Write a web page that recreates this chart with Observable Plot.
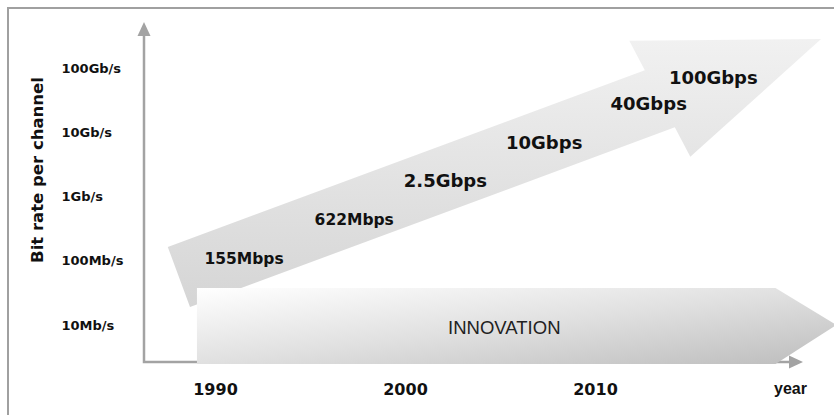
<!DOCTYPE html>
<html>
<head>
<meta charset="utf-8">
<script src="https://cdn.jsdelivr.net/npm/d3@7"></script>
<script src="https://cdn.jsdelivr.net/npm/@observablehq/plot@0.6"></script>
<style>
  html, body { margin: 0; padding: 0; background: #fff; }
  #chart svg { display: block; }
</style>
</head>
<body>
<div id="chart"></div>
<script>
// Bit-rate axis (Mb/s, log scale) and its tick labels
const rateTicks = [10, 100, 1000, 10000, 100000];
const rateTickLabels = ["10Mb/s", "100Mb/s", "1Gb/s", "10Gb/s", "100Gb/s"];
const yearTicks = [1990, 2000, 2010];

// Channel-rate milestones written along the trend arrow
const milestoneLabels = ["155Mbps", "622Mbps", "2.5Gbps", "10Gbps", "40Gbps", "100Gbps"];
const milestoneRates = [155, 622, 2500, 10000, 40000, 100000];
const milestoneYears = [1991.5, 1997.3, 2002.1, 2007.3, 2012.8, 2016.2];

// Trend arrow: tail and tip (year, Mb/s)
const trendYears = [1988.1, 2021.9];
const trendRates = [56, 282000];

// "INNOVATION" arrow: start, end of body, tip (years)
const innovationYears = [1989.05, 2019.5, 2022.7];

const milestones = milestoneLabels.map((label, i) => ({
  label, rate: milestoneRates[i], year: milestoneYears[i]
}));

const W = 834, H = 415;
const axisGray = "#a3a3a3";
const tickFont = "DejaVu Sans";

function decorations(index, scales, values, dimensions) {
  const {width, height, marginLeft, marginTop, marginRight, marginBottom} = dimensions;
  const x = scales.x, y = scales.y;
  const g = d3.create("svg:g");
  const defs = g.append("defs");

  const trendGrad = defs.append("linearGradient")
    .attr("id", "trend-fill").attr("x1", 0).attr("y1", 0).attr("x2", 0).attr("y2", 1);
  trendGrad.append("stop").attr("offset", 0).attr("stop-color", "#f1f1f1");
  trendGrad.append("stop").attr("offset", 1).attr("stop-color", "#d5d5d5");

  const innoGrad = defs.append("linearGradient")
    .attr("id", "innovation-fill").attr("x1", 0).attr("y1", 0).attr("x2", 1).attr("y2", 1);
  innoGrad.append("stop").attr("offset", 0).attr("stop-color", "#ffffff");
  innoGrad.append("stop").attr("offset", 0.5).attr("stop-color", "#e0e0e0");
  innoGrad.append("stop").attr("offset", 1).attr("stop-color", "#bdbdbd");

  // outer border (left and top)
  g.append("path")
    .attr("d", `M8,${height}V8H${width}`)
    .attr("fill", "none").attr("stroke", "#a0a0a0").attr("stroke-width", 2);

  // axes with filled arrowheads
  const ox = marginLeft, oy = height - marginBottom;
  const xTip = width - marginRight, yTip = marginTop;
  const headLen = 14, headHalf = 6.5;
  g.append("path")
    .attr("d", `M${ox},${yTip + headLen}V${oy}H${xTip - headLen}`)
    .attr("fill", "none").attr("stroke", axisGray).attr("stroke-width", 2.5);
  g.append("path")
    .attr("d", `M${ox - headHalf},${yTip + headLen}L${ox},${yTip}L${ox + headHalf},${yTip + headLen}Z`)
    .attr("fill", axisGray);
  g.append("path")
    .attr("d", `M${xTip - headLen},${oy - headHalf}L${xTip},${oy}L${xTip - headLen},${oy + headHalf}Z`)
    .attr("fill", axisGray);

  // trend arrow; the back edge of its head leans slightly toward the tail
  const p0 = [x(trendYears[0]), y(trendRates[0])];
  const p1 = [x(trendYears[1]), y(trendRates[1])];
  const len = Math.hypot(p1[0] - p0[0], p1[1] - p0[1]);
  const u = [(p1[0] - p0[0]) / len, (p1[1] - p0[1]) / len];
  const n = [u[1], -u[0]];
  const shaftHalf = 32, headHalfW = 65, headLength = 172, lean = 0.13;
  const pb = [p1[0] - u[0] * headLength, p1[1] - u[1] * headLength];
  const pt = (p, k) => [p[0] + n[0] * k, p[1] + n[1] * k];
  const hp = k => [pb[0] + n[0] * k - u[0] * k * lean, pb[1] + n[1] * k - u[1] * k * lean];
  const poly = [
    pt(p0, shaftHalf), hp(shaftHalf), hp(headHalfW), p1,
    hp(-headHalfW), hp(-shaftHalf), pt(p0, -shaftHalf)
  ];
  g.append("path")
    .attr("d", "M" + poly.map(p => p.join(",")).join("L") + "Z")
    .attr("fill", "url(#trend-fill)");

  // INNOVATION arrow resting on the time axis
  const bandBottom = oy + 2, bandTop = bandBottom - 76, bandMid = (bandTop + bandBottom) / 2 - 1;
  const [ix0, ix1, ix2] = innovationYears.map(x);
  g.append("path")
    .attr("d", `M${ix0},${bandTop}H${ix1}L${ix2},${bandMid}L${ix1},${bandBottom}H${ix0}Z`)
    .attr("fill", "url(#innovation-fill)");

  return g.node();
}

const chart = Plot.plot({
  width: W,
  height: H,
  marginLeft: 144,
  marginTop: 22,
  marginRight: 31,
  marginBottom: 53,
  style: {background: "#fff", color: "#111"},
  x: {domain: [1990, 2010], range: [215, 595]},
  y: {type: "log", domain: [10, 100000], range: [325, 68]},
  marks: [
    decorations,
    Plot.axisY(rateTicks, {
      anchor: "left",
      tickSize: 0,
      tickPadding: 0,
      textAnchor: "start",
      dx: -83,
      fontSize: 13,
      fontFamily: tickFont,
      fontWeight: "bold",
      fill: "#111",
      tickFormat: d => rateTickLabels[rateTicks.indexOf(d)],
      label: null
    }),
    Plot.axisX(yearTicks, {
      anchor: "bottom",
      tickSize: 0,
      tickPadding: 21,
      fontSize: 16,
      fontFamily: tickFont,
      fontWeight: "bold",
      fill: "#111",
      tickFormat: d => String(d),
      label: null
    }),
    Plot.text(["year"], {
      text: d => d,
      frameAnchor: "bottom-right",
      textAnchor: "middle",
      lineAnchor: "middle",
      dx: -13,
      dy: 26,
      fontSize: 16,
      fontFamily: "Liberation Sans",
      fontWeight: "bold",
      fill: "#111"
    }),
    Plot.text(["Bit rate per channel"], {
      text: d => d,
      frameAnchor: "left",
      textAnchor: "middle",
      lineAnchor: "middle",
      rotate: -90,
      dx: -107,
      dy: -22.5,
      fontSize: 16.5,
      fontFamily: tickFont,
      fontWeight: "bold",
      fill: "#111"
    }),
    Plot.text(["INNOVATION"], {
      text: d => d,
      x: () => 2005.2,
      frameAnchor: "bottom",
      lineAnchor: "middle",
      dy: -34,
      fontSize: 18.5,
      fontFamily: "Liberation Sans",
      fill: "#222"
    }),
    Plot.text(milestones, {
      x: "year",
      y: "rate",
      text: "label",
      dy: 10,
      fontSize: d => d.label.endsWith("Mbps") ? 15.5 : 18,
      fontFamily: tickFont,
      fontWeight: "bold",
      fill: "#111"
    })
  ]
});

document.getElementById("chart").appendChild(chart);
</script>
</body>
</html>
